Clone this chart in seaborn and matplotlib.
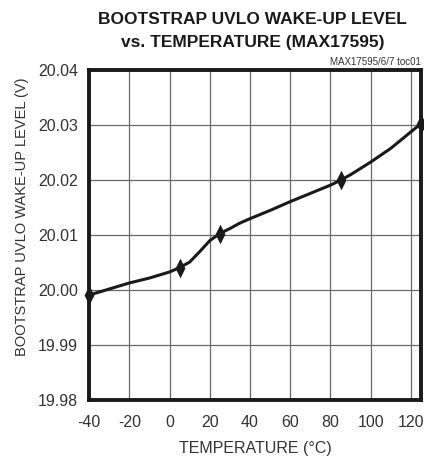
import matplotlib
matplotlib.use("Agg")
import matplotlib.pyplot as plt
import seaborn as sns
import pandas as pd

temp = [-40, -30, -20, -10, 0, 5, 10, 15, 20, 25, 30, 35, 40, 50, 60, 70, 80, 85, 90, 100, 110, 120, 125]
level = [19.9991, 20.0002, 20.0013, 20.0022, 20.0033, 20.0041, 20.0051, 20.0070, 20.0090, 20.0103,
         20.0112, 20.0122, 20.0130, 20.0145, 20.0161, 20.0176, 20.0191, 20.0200, 20.0210, 20.0233,
         20.0258, 20.0288, 20.0303]
marker_temp = [-40, 5, 25, 85, 125]
marker_level = [19.9991, 20.0041, 20.0103, 20.0200, 20.0303]
xticks = [-40, -20, 0, 20, 40, 60, 80, 100, 120]
yticks = [19.98, 19.99, 20.00, 20.01, 20.02, 20.03, 20.04]

sns.set_style("white")
plt.rcParams['font.family'] = ['Liberation Sans', 'DejaVu Sans']

fig = plt.figure(figsize=(4.24, 4.62), dpi=100)
ax = fig.add_axes([0.21, 0.134, 0.783, 0.714])

df = pd.DataFrame({"t": temp, "v": level})
dm = pd.DataFrame({"t": marker_temp, "v": marker_level})
diamond = [(0, 1), (0.5, 0), (0, -1), (-0.5, 0), (0, 1)]
sns.lineplot(data=df, x="t", y="v", ax=ax, color="#1a1a1a", linewidth=2.2, zorder=3)
sns.scatterplot(data=dm, x="t", y="v", ax=ax, marker=diamond, s=200, color="#1a1a1a",
                edgecolor="#1a1a1a", linewidth=0, zorder=4, clip_on=False)

ax.set_xlim(-40, 125)
ax.set_ylim(19.98, 20.04)
ax.set_xticks(xticks)
ax.set_xticklabels([str(x) for x in xticks])
ax.set_yticks(yticks)
ax.set_yticklabels([f"{y:.2f}" for y in yticks])
ax.grid(True, color="#6a6a6a", linewidth=0.9)
ax.tick_params(axis="both", length=0, labelsize=11.5, colors="#333333")
ax.tick_params(axis="x", pad=11)
ax.tick_params(axis="y", pad=8)
for s in ax.spines.values():
    s.set_visible(True)
    s.set_linewidth(2.8)
    s.set_color("#1a1a1a")
ax.set_xlabel("TEMPERATURE (°C)", fontsize=11.5, color="#333333", labelpad=8)
ax.set_ylabel("BOOTSTRAP UVLO WAKE-UP LEVEL (V)", fontsize=10.5, color="#333333")
ax.yaxis.set_label_coords(-0.18, 0.555)

fig.text(0.595, 0.958, "BOOTSTRAP UVLO WAKE-UP LEVEL", ha="center", va="center",
         fontsize=12.5, fontweight="bold", color="#1a1a1a")
fig.text(0.595, 0.908, "vs. TEMPERATURE (MAX17595)", ha="center", va="center",
         fontsize=12.5, fontweight="bold", color="#1a1a1a")
fig.text(0.993, 0.855, "MAX17595/6/7 toc01", ha="right", va="bottom", fontsize=7, color="#333333")

fig.savefig("out.png", dpi=100)
